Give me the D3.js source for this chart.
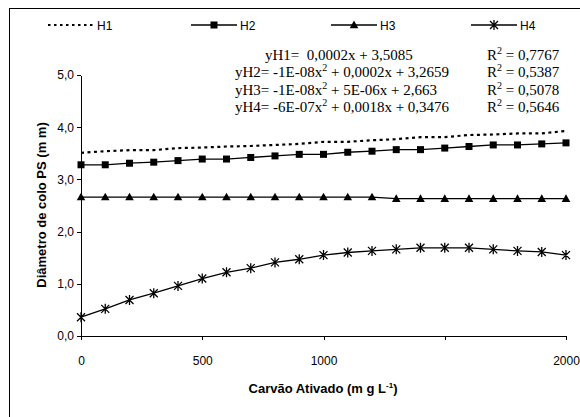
<!DOCTYPE html>
<html lang="pt">
<head>
  <meta charset="UTF-8">
  <title>Diâmetro de colo PS</title>
  <script src="https://d3js.org/d3.v7.min.js"></script>
  <style>
    body { margin: 0; background: #fff; }
    svg { display: block; }
    .axis path, .axis line { fill: none; stroke: #000; stroke-width: 1; shape-rendering: crispEdges; }
    .axis text { font-family: "Liberation Sans", Arial, sans-serif; font-size: 12px; fill: #000; }
    .title { font-family: "Liberation Sans", Arial, sans-serif; font-size: 13px; font-weight: bold; }
    .eq { font-family: "Liberation Serif", "Times New Roman", serif; font-size: 15px; }
    .leg { font-family: "Liberation Sans", Arial, sans-serif; font-size: 12px; }
  </style>
</head>
<body>
  <svg width="580" height="417"></svg>

  <script>
    const doses = [0, 100, 200, 300, 400, 500, 600, 700, 800, 900, 1000,
                   1100, 1200, 1300, 1400, 1500, 1600, 1700, 1800, 1900, 2000];
    const h1 = [3.51, 3.54, 3.56, 3.56, 3.60, 3.61, 3.63, 3.64, 3.66, 3.68, 3.72,
                3.72, 3.75, 3.77, 3.81, 3.81, 3.85, 3.86, 3.88, 3.88, 3.93];
    const h2 = [3.28, 3.28, 3.31, 3.33, 3.36, 3.39, 3.39, 3.42, 3.45, 3.48, 3.48,
                3.52, 3.54, 3.57, 3.57, 3.60, 3.63, 3.66, 3.66, 3.68, 3.70];
    const h3 = [2.66, 2.66, 2.66, 2.66, 2.66, 2.66, 2.66, 2.66, 2.66, 2.66, 2.66,
                2.66, 2.66, 2.63, 2.63, 2.63, 2.63, 2.63, 2.63, 2.63, 2.63];
    const h4 = [0.36, 0.52, 0.69, 0.82, 0.96, 1.10, 1.22, 1.30, 1.41, 1.47, 1.55,
                1.60, 1.63, 1.66, 1.69, 1.69, 1.69, 1.66, 1.63, 1.61, 1.55];

    const xTicks = [0, 500, 1000, 1500, 2000];
    const xTickLabels = ['0', '500', '1000', '', '2000'];
    const yTicks = [0, 1, 2, 3, 4, 5];

    const seriesNames = ['H1', 'H2', 'H3', 'H4'];
    const equations = [
      ['yH1=  0,0002x + 3,5085', null, ''],
      ['yH2= -1E-08x', '2', ' + 0,0002x + 3,2659'],
      ['yH3= -1E-08x', '2', ' + 5E-06x + 2,663'],
      ['yH4= -6E-07x', '2', ' + 0,0018x + 0,3476']
    ];
    const r2 = ['0,7767', '0,5387', '0,5078', '0,5646'];

    const svg = d3.select('svg');

    // moldura (cortada à direita e embaixo, como no original)
    svg.append('rect')
      .attr('x', 9.5).attr('y', 8.5)
      .attr('width', 620).attr('height', 450)
      .attr('fill', 'none').attr('stroke', '#000');

    const x = d3.scaleLinear().domain([0, 2000]).range([81, 566]);
    const y = d3.scaleLinear().domain([0, 5]).range([336, 75]);

    svg.append('g')
      .attr('class', 'axis')
      .attr('transform', 'translate(0,336)')
      .call(d3.axisBottom(x).tickValues(xTicks).tickSize(4).tickSizeOuter(0)
        .tickFormat((d, i) => xTickLabels[i]))
      .selectAll('text').attr('dy', '1.8em');

    svg.append('g')
      .attr('class', 'axis')
      .attr('transform', 'translate(81,0)')
      .call(d3.axisLeft(y).tickValues(yTicks).tickSize(4).tickSizeOuter(0)
        .tickFormat(d => d3.format('.1f')(d).replace('.', ',')))
      .selectAll('text').attr('x', -7);

    const line = d3.line().x((d, i) => x(doses[i])).y(d => y(d));

    // H1: pontilhada, sem marcador
    svg.append('path')
      .datum(h1)
      .attr('d', line)
      .attr('fill', 'none').attr('stroke', '#000')
      .attr('stroke-width', 2.2).attr('stroke-dasharray', '3,3.5');

    [h2, h3, h4].forEach(s => {
      svg.append('path')
        .datum(s)
        .attr('d', line)
        .attr('fill', 'none').attr('stroke', '#000').attr('stroke-width', 1.3);
    });

    const square = (g) => g.append('rect')
      .attr('x', -3.5).attr('y', -3.5).attr('width', 7).attr('height', 7).attr('fill', '#000');
    const triangle = (g) => g.append('path')
      .attr('d', 'M0,-4.5L4.3,3.2L-4.3,3.2Z').attr('fill', '#000');
    const star = (g) => g.append('path')
      .attr('d', 'M-4,-4L4,4M-4,4L4,-4M0,-5L0,5')
      .attr('stroke', '#000').attr('stroke-width', 1.3).attr('fill', 'none');

    const markers = [null, square, triangle, star];

    [h1, h2, h3, h4].forEach((s, k) => {
      if (!markers[k]) return;
      s.forEach((v, i) => {
        const g = svg.append('g').attr('transform', `translate(${x(doses[i])},${y(v)})`);
        markers[k](g);
      });
    });

    // legenda
    const legX = [48, 191, 331, 471];
    seriesNames.forEach((name, k) => {
      const g = svg.append('g').attr('transform', `translate(${legX[k]},25)`);
      const ln = g.append('line').attr('x1', 0).attr('x2', 46).attr('y1', 0).attr('y2', 0)
        .attr('stroke', '#000');
      if (k === 0) ln.attr('stroke-width', 2.2).attr('stroke-dasharray', '2.5,3.5');
      else {
        ln.attr('stroke-width', 1.3);
        markers[k](g.append('g').attr('transform', 'translate(23,0)'));
      }
      g.append('text').attr('class', 'leg').attr('x', 49).attr('y', 4.5).text(name);
    });

    // equações
    const eqX = [265, 235, 235, 235];
    equations.forEach((e, k) => {
      const yy = 60 + k * 17.3;
      const t = svg.append('text').attr('class', 'eq').attr('x', eqX[k]).attr('y', yy)
        .attr('xml:space', 'preserve');
      t.append('tspan').text(e[0]);
      if (e[1]) {
        t.append('tspan').attr('font-size', '10px').attr('dy', -6).text(e[1]);
        t.append('tspan').attr('dy', 6).text(e[2]);
      }
      const r = svg.append('text').attr('class', 'eq').attr('x', 487).attr('y', yy);
      r.append('tspan').text('R');
      r.append('tspan').attr('font-size', '10px').attr('dy', -6).text('2');
      r.append('tspan').attr('dy', 6).text(' = ' + r2[k]);
    });

    // títulos dos eixos
    const xt = svg.append('text').attr('class', 'title')
      .attr('x', 323).attr('y', 393).attr('text-anchor', 'middle');
    xt.append('tspan').text('Carvão Ativado (m g L');
    xt.append('tspan').attr('font-size', '8px').attr('dy', -5).text('-1');
    xt.append('tspan').attr('dy', 5).text(')');

    svg.append('text').attr('class', 'title')
      .attr('transform', 'translate(46,205) rotate(-90)')
      .attr('text-anchor', 'middle')
      .text('Diâmetro de colo PS (m m)');
  </script>
</body>
</html>
